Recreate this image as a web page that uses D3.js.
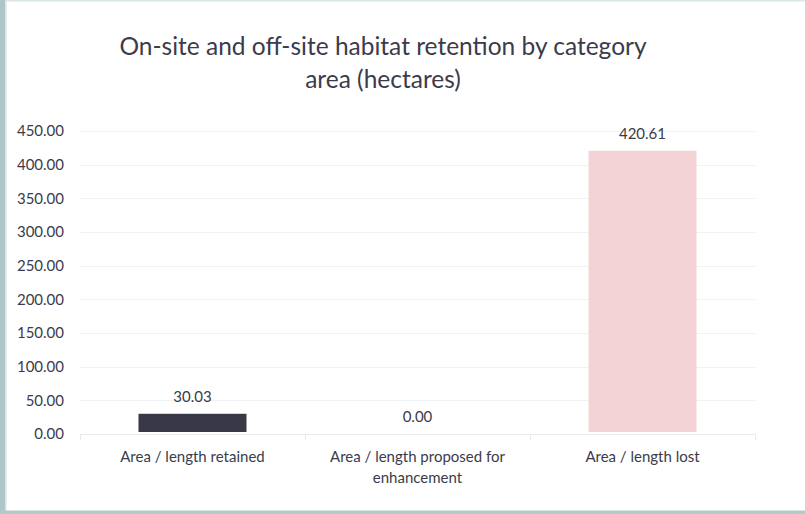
<!DOCTYPE html>
<html>
<head>
<meta charset="utf-8">
<script src="https://cdn.jsdelivr.net/npm/d3@7"></script>
<style>
  html, body { margin: 0; padding: 0; background: #ffffff; }
  svg { display: block; }
  text { font-family: Lato, "Open Sans", sans-serif; }
</style>
</head>
<body>
<svg id="chart" width="805" height="514"></svg>
<script>
// Habitat retention by category (hectares)
const categories = [
  ["Area / length retained"],
  ["Area / length proposed for", "enhancement"],
  ["Area / length lost"]
];
const values = [30.03, 0.00, 420.61];
const barColors = ["#383847", "#4a4a5a", "#f3d3d5"];
const yTicks = [0, 50, 100, 150, 200, 250, 300, 350, 400, 450];
const titleLines = ["On-site and off-site habitat retention by category", "area (hectares)"];

const svg = d3.select("#chart");
const W = 805, H = 514;
const margin = { left: 80, right: 50, top: 131, bottom: 80 };
const plotW = W - margin.left - margin.right;   // 675
const plotH = H - margin.top - margin.bottom;   // 303
const textColor = "#3b3b4b";

// frame
svg.append("rect").attr("x", 0).attr("y", 0).attr("width", W).attr("height", H).attr("fill", "#ffffff");
svg.append("rect").attr("x", 0).attr("y", 0).attr("width", W).attr("height", 1.5).attr("fill", "#dce6e8");
svg.append("rect").attr("x", 0).attr("y", 0).attr("width", 5).attr("height", H).attr("fill", "#afc5ca");
svg.append("rect").attr("x", 5).attr("y", 0).attr("width", 1.5).attr("height", H).attr("fill", "#d6e2e5");
svg.append("rect").attr("x", 0).attr("y", 510.5).attr("width", W).attr("height", 3.5).attr("fill", "#b5c8cc");

const x = d3.scaleBand()
  .domain(d3.range(categories.length))
  .range([margin.left, margin.left + plotW])
  .paddingInner(0.52)
  .paddingOuter(0.26);

const xOuter = d3.scaleBand()
  .domain(d3.range(categories.length))
  .range([margin.left, margin.left + plotW]);

const y = d3.scaleLinear()
  .domain([0, 450])
  .range([margin.top + plotH, margin.top]);

// gridlines
svg.append("g")
  .selectAll("line")
  .data(yTicks.filter(t => t > 0))
  .join("line")
  .attr("x1", margin.left)
  .attr("x2", margin.left + plotW)
  .attr("y1", d => Math.round(y(d)) + 0.5)
  .attr("y2", d => Math.round(y(d)) + 0.5)
  .attr("stroke", "#eef2f3")
  .attr("stroke-width", 1);

// y axis labels
const yAxis = d3.axisLeft(y)
  .tickValues(yTicks)
  .tickFormat(d3.format(".2f"))
  .tickSize(0)
  .tickPadding(16);
const gy = svg.append("g")
  .attr("transform", `translate(${margin.left},0)`)
  .call(yAxis);
gy.select(".domain").remove();
gy.selectAll("text")
  .attr("fill", textColor)
  .style("font-family", "Lato, 'Open Sans', sans-serif")
  .style("font-size", "15px");

// bars
svg.append("g")
  .selectAll("rect")
  .data(values)
  .join("rect")
  .attr("x", (d, i) => x(i))
  .attr("width", x.bandwidth())
  .attr("y", d => y(d))
  .attr("height", d => Math.max(0, y(0) - y(d) - 2))
  .attr("fill", (d, i) => barColors[i]);

// x axis baseline with category boundary ticks
const axisY = Math.round(y(0)) + 0.5;
svg.append("line")
  .attr("x1", margin.left).attr("x2", margin.left + plotW)
  .attr("y1", axisY).attr("y2", axisY)
  .attr("stroke", "#e6ebec");
const bounds = d3.range(categories.length + 1).map(i =>
  i < categories.length ? xOuter(i) : margin.left + plotW);
svg.append("g")
  .selectAll("line")
  .data(bounds)
  .join("line")
  .attr("x1", d => Math.round(d) + 0.5)
  .attr("x2", d => Math.round(d) + 0.5)
  .attr("y1", axisY)
  .attr("y2", axisY + 6)
  .attr("stroke", "#e6ebec");

// category labels
const catG = svg.append("g")
  .selectAll("text")
  .data(categories)
  .join("text")
  .attr("x", (d, i) => xOuter(i) + xOuter.bandwidth() / 2)
  .attr("y", 462)
  .attr("text-anchor", "middle")
  .attr("fill", textColor)
  .style("font-size", "15px");
catG.selectAll("tspan")
  .data(d => d)
  .join("tspan")
  .attr("x", function () { return d3.select(this.parentNode).attr("x"); })
  .attr("dy", (d, i) => i === 0 ? 0 : 21)
  .text(d => d);

// value labels
svg.append("g")
  .selectAll("text")
  .data(values)
  .join("text")
  .attr("x", (d, i) => x(i) + x.bandwidth() / 2)
  .attr("y", d => y(d) - 12)
  .attr("text-anchor", "middle")
  .attr("fill", textColor)
  .style("font-size", "15px")
  .text(d => d3.format(".2f")(d));

// title
svg.append("g")
  .selectAll("text")
  .data(titleLines)
  .join("text")
  .attr("x", 383)
  .attr("y", (d, i) => 55 + i * 33)
  .attr("text-anchor", "middle")
  .attr("fill", textColor)
  .style("font-size", "24.5px")
  .text(d => d);
</script>
</body>
</html>
